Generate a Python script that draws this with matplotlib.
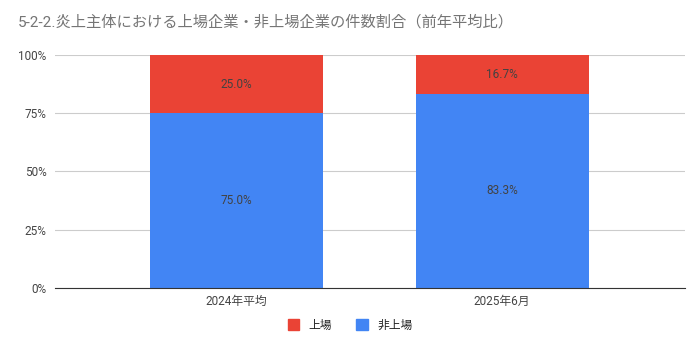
import matplotlib
matplotlib.use("Agg")
import matplotlib.pyplot as plt
from matplotlib.patches import Patch

plt.rcParams['font.family'] = ['Roboto', 'Noto Sans CJK JP', 'DejaVu Sans']

categories = ['2024年平均', '2025年6月']
listed = [25.0, 16.7]
unlisted = [75.0, 83.3]
series_names = ['上場', '非上場']
blue = '#4285F4'
red = '#EA4335'

fig = plt.figure(figsize=(7, 3.51), dpi=100)
ax = fig.add_axes([0.0786, 0.1795, 0.9, 0.6638])

x = list(range(len(categories)))
ax.bar(x, unlisted, width=0.652, color=blue, zorder=2)
ax.bar(x, listed, width=0.652, bottom=unlisted, color=red, zorder=2)

for i in x:
    ax.text(i, unlisted[i] / 2, f'{unlisted[i]:.1f}%', ha='center', va='center',
            fontsize=8.5, color='#424242', zorder=3)
    ax.text(i, unlisted[i] + listed[i] / 2, f'{listed[i]:.1f}%', ha='center', va='center',
            fontsize=8.5, color='#424242', zorder=3)

ax.set_xlim(-0.684, 1.689)
ax.set_ylim(0, 100)
ax.set_yticks([0, 25, 50, 75, 100])
ax.set_yticklabels(['0%', '25%', '50%', '75%', '100%'])
ax.set_xticks(x)
ax.set_xticklabels(categories)
ax.tick_params(axis='both', length=0, labelsize=8.5, colors='#444444')
ax.tick_params(axis='y', pad=6)
ax.tick_params(axis='x', pad=5)
ax.grid(axis='y', color='#cccccc', linewidth=0.8, zorder=0)
for s in ['top', 'right', 'left']:
    ax.spines[s].set_visible(False)
ax.spines['bottom'].set_color('#333333')
ax.spines['bottom'].set_zorder(3)

fig.text(18 / 700, 1 - 22 / 351, '5-2-2.炎上主体における上場企業・非上場企業の件数割合（前年平均比）',
         fontsize=11, color='#757575', ha='left', va='center')

handles = [Patch(color=red), Patch(color=blue)]
fig.legend(handles, series_names, loc='center', bbox_to_anchor=(0.5, 1 - 325 / 351),
           ncol=2, frameon=False, fontsize=8.5, handlelength=1, handleheight=1,
           handletextpad=0.8, columnspacing=2.0, labelcolor='#222222')

fig.savefig('out.png', dpi=100)
